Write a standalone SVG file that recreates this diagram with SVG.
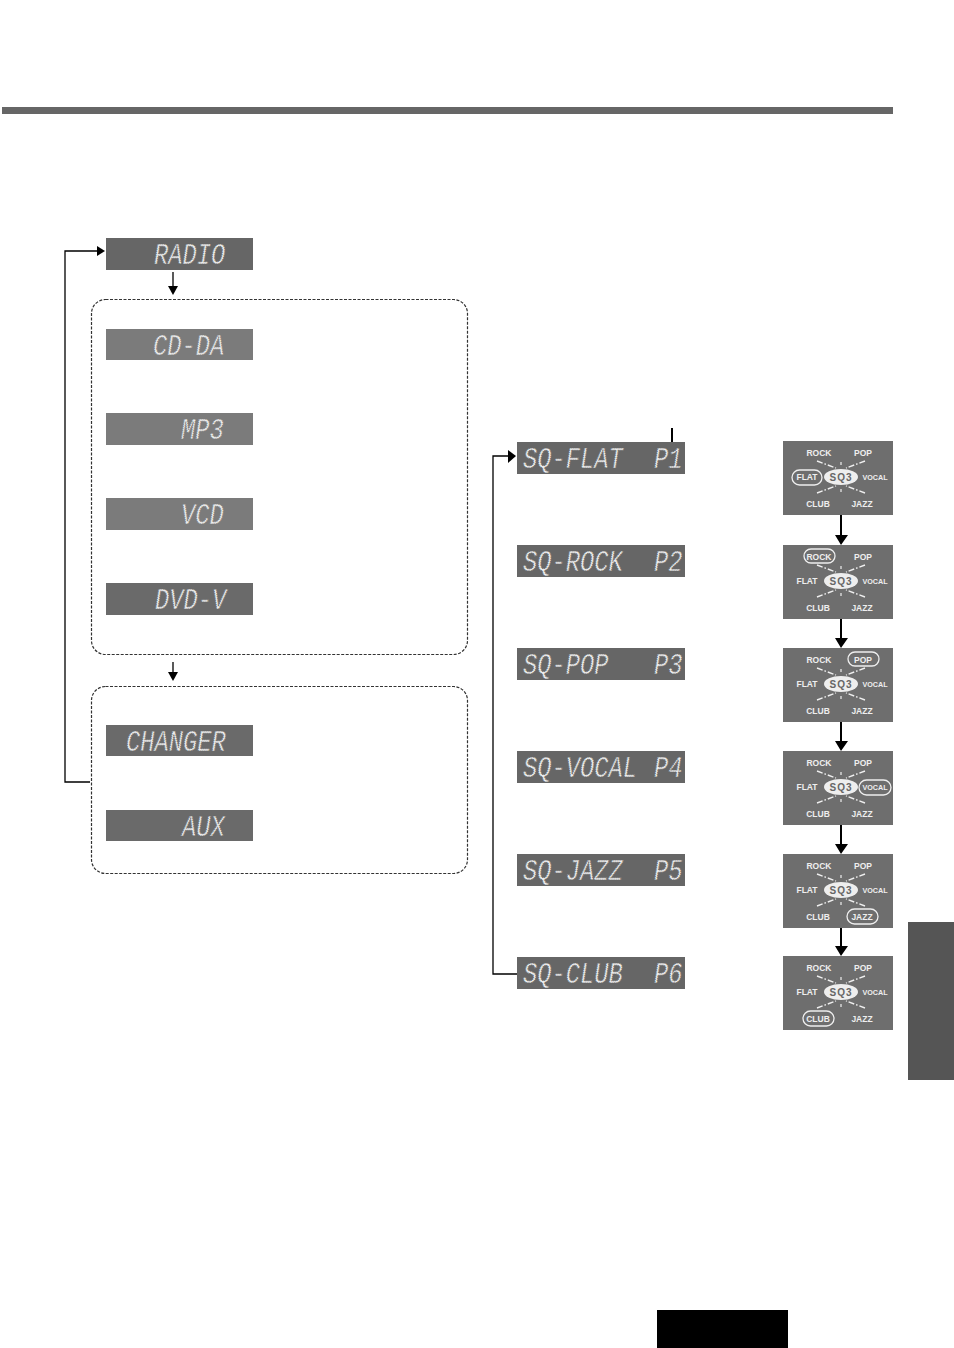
<svg xmlns="http://www.w3.org/2000/svg" width="954" height="1348" viewBox="0 0 954 1348">
<style>
text{font-family:"Liberation Mono",monospace}
.l{font-size:29px;font-style:italic;fill:#ececec;stroke-width:1;stroke-dasharray:1.3 .9}
.d1{fill:#666;stroke:none}.d2{fill:#7b7b7b;stroke:none}.d3{fill:#6a6a6a;stroke:none}
.k1{stroke:#666}.k2{stroke:#7b7b7b}.k3{stroke:#6a6a6a}
.c{fill:none;stroke:#000;stroke-width:1.3}
.t{fill:none;stroke:#000;stroke-width:2}
.box{fill:none;stroke:#333;stroke-width:1.2;stroke-dasharray:3 1.5}
.p{font-family:"Liberation Sans",sans-serif;font-size:8.500px;font-weight:bold;fill:#eee;text-anchor:middle}
.v{font-size:7.200px}
.q{font-family:"Liberation Sans",sans-serif;font-size:10px;font-weight:bold;fill:#666;text-anchor:middle;letter-spacing:1px}
.r{fill:none;stroke:#eee;stroke-width:1.3}
.s{fill:none;stroke:#eee;stroke-width:1.4;stroke-dasharray:6 2 1.500 2}
</style>
<defs>
<g id="sel">
<rect width="110" height="74" fill="#6e6e6e"/>
<ellipse cx="58" cy="36" rx="17" ry="8" fill="#eee"/>
<path class="s" d="M34 20 53 27M82 20 63 27M34 52 53 45M82 52 63 45"/>
<path fill="none" stroke="#eee" stroke-width="1.200" d="M58 21V24M58 48V51"/>
<text class="p" x="36" y="15">ROCK</text><text class="p" x="80" y="15">POP</text>
<text class="p" x="24" y="39">FLAT</text><text class="p v" x="92" y="39">VOCAL</text>
<text class="p" x="35" y="66">CLUB</text><text class="p" x="79" y="66">JAZZ</text>
<text class="q" x="58" y="39.500">SQ3</text>
</g>
</defs>
<rect width="954" height="1348" fill="#fff"/>
<rect x="2" y="107" width="891" height="7" fill="#666"/>
<rect x="908" y="922" width="46" height="158" fill="#555"/>
<rect x="657" y="1310" width="131" height="38" fill="#000"/>
<g id="connectors">
<path class="c" d="M90 782H65V251H98"/><path d="M97 246 105 251 97 256Z"/>
<path class="c" d="M173 272V287"/><path d="M168 286H178L173 295Z"/>
<path class="c" d="M173 662V674"/><path d="M168 672H178L173 681Z"/>
<path class="c" d="M517 974H493V456H509"/><path d="M508 450 516 456 508 463Z"/>
<path class="t" d="M672 428V452"/>
<path class="t" d="M841 515V536M841 619V639M841 722V742M841 825V845M841 928V947"/>
<path d="M835 535H848L841 545ZM835 638H848L841 648ZM835 741H848L841 751ZM835 844H848L841 854ZM835 946H848L841 956Z"/>
</g>
<rect id="group-1" class="box" x="91.500" y="299.500" width="376" height="355" rx="14"/>
<rect id="group-2" class="box" x="91.500" y="686.500" width="376" height="187" rx="14"/>
<g id="radio"><rect class="d1" x="106" y="238" width="147" height="32"/><text class="l k1" transform="translate(154 264) scale(.82 1)">RADIO</text></g>
<g id="cdda"><rect class="d2" x="106" y="329" width="147" height="31"/><text class="l k2" transform="translate(153 355) scale(.82 1)">CD-DA</text></g>
<g id="mp3"><rect class="d2" x="106" y="413" width="147" height="32"/><text class="l k2" transform="translate(181 439) scale(.82 1)">MP3</text></g>
<g id="vcd"><rect class="d2" x="106" y="498" width="147" height="32"/><text class="l k2" transform="translate(181 524) scale(.82 1)">VCD</text></g>
<g id="dvdv"><rect class="d3" x="106" y="583" width="147" height="32"/><text class="l k3" transform="translate(155 609) scale(.82 1)">DVD-V</text></g>
<g id="changer"><rect class="d3" x="106" y="725" width="147" height="31"/><text class="l k3" transform="translate(126 751) scale(.82 1)">CHANGER</text></g>
<g id="aux"><rect class="d3" x="106" y="810" width="147" height="31"/><text class="l k3" transform="translate(182 836) scale(.82 1)">AUX</text></g>
<g id="sq-flat"><rect class="d1" x="517" y="442" width="168" height="32"/><text class="l k1" transform="translate(523 468) scale(.82 1)">SQ-FLAT</text><text class="l k1" transform="translate(654 468) scale(.82 1)">P1</text></g>
<g id="sq-rock"><rect class="d1" x="517" y="545" width="168" height="32"/><text class="l k1" transform="translate(523 571) scale(.82 1)">SQ-ROCK</text><text class="l k1" transform="translate(654 571) scale(.82 1)">P2</text></g>
<g id="sq-pop"><rect class="d1" x="517" y="648" width="168" height="32"/><text class="l k1" transform="translate(523 674) scale(.82 1)">SQ-POP</text><text class="l k1" transform="translate(654 674) scale(.82 1)">P3</text></g>
<g id="sq-vocal"><rect class="d1" x="517" y="751" width="168" height="32"/><text class="l k1" transform="translate(523 777) scale(.82 1)">SQ-VOCAL</text><text class="l k1" transform="translate(654 777) scale(.82 1)">P4</text></g>
<g id="sq-jazz"><rect class="d1" x="517" y="854" width="168" height="32"/><text class="l k1" transform="translate(523 880) scale(.82 1)">SQ-JAZZ</text><text class="l k1" transform="translate(654 880) scale(.82 1)">P5</text></g>
<g id="sq-club"><rect class="d1" x="517" y="957" width="168" height="32"/><text class="l k1" transform="translate(523 983) scale(.82 1)">SQ-CLUB</text><text class="l k1" transform="translate(654 983) scale(.82 1)">P6</text></g>
<g id="panel-flat" transform="translate(783 441)"><use href="#sel"/><rect class="r" x="9" y="29" width="30" height="15" rx="7.500"/></g>
<g id="panel-rock" transform="translate(783 545)"><use href="#sel"/><rect class="r" x="21" y="4" width="31" height="14" rx="7"/></g>
<g id="panel-pop" transform="translate(783 648)"><use href="#sel"/><rect class="r" x="65" y="4" width="31" height="14" rx="7"/></g>
<g id="panel-vocal" transform="translate(783 751)"><use href="#sel"/><rect class="r" x="76" y="29" width="32" height="15" rx="7.500"/></g>
<g id="panel-jazz" transform="translate(783 854)"><use href="#sel"/><rect class="r" x="64" y="55" width="31" height="15" rx="7.500"/></g>
<g id="panel-club" transform="translate(783 956)"><use href="#sel"/><rect class="r" x="20" y="55" width="31" height="15" rx="7.500"/></g>
</svg>
